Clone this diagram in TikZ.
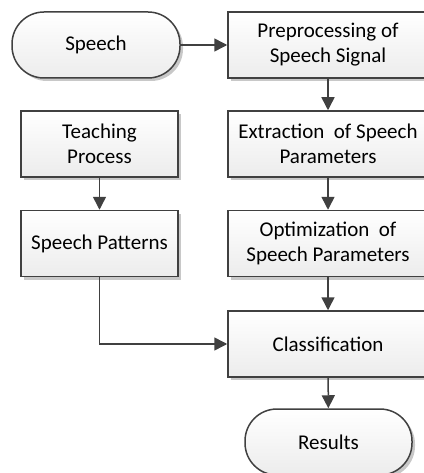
\documentclass[tikz,border=0pt]{standalone}
\usepackage{fontspec}
\setmainfont{Carlito}
\usetikzlibrary{arrows.meta,shadows}
\definecolor{flowcolor0000}{RGB}{64,64,64}
\definecolor{flowcolor0001}{RGB}{236,236,236}
\definecolor{flowcolor0002}{RGB}{200,200,200}
\begin{document}
\begin{tikzpicture}[yscale=-1
,pstyle1/.style={draw=flowcolor0000,line width=1.5pt,top color=white,bottom color=flowcolor0001,drop shadow={shadow xshift=3pt,shadow yshift=-3pt,fill=flowcolor0002,opacity=1},font=\fontsize{21pt}{25pt}\selectfont,align=center,inner sep=0pt}
,pbox/.style={pstyle1,minimum width=200pt,minimum height=66pt}
,pterm/.style={pstyle1,rounded corners=32pt,minimum height=66pt}
,pstyle2/.style={color=flowcolor0000,line width=1.5pt,-{Triangle[length=13pt,width=13pt]}}
]
\useasboundingbox (0pt,0pt) rectangle (423pt,473pt);
\node[pterm,minimum width=168pt] (speech) at (96pt,45pt) {Speech};
\node[pbox] (pre) at (328pt,45pt) {Preprocessing of\\Speech Signal};
\node[pbox] (extr) at (328pt,144pt) {Extraction~ of Speech\\Parameters};
\node[pbox] (opt) at (328pt,243.5pt) {Optimization~ of\\Speech Parameters};
\node[pbox] (cls) at (328pt,344pt) {Classification};
\node[pterm,minimum width=167pt] (res) at (328.5pt,442pt) {Results};
\node[pbox,minimum width=157pt] (teach) at (99.5pt,144pt) {Teaching\\Process};
\node[pbox,minimum width=157pt] (patt) at (99.5pt,243.5pt) {Speech Patterns};
\draw[pstyle2] (speech) -- (pre);
\draw[pstyle2] (pre) -- (extr);
\draw[pstyle2] (extr) -- (opt);
\draw[pstyle2] (opt) -- (cls);
\draw[pstyle2] (cls) -- (res);
\draw[pstyle2] (teach) -- (patt);
\draw[pstyle2] (patt) |- (cls);
\end{tikzpicture}
\end{document}
